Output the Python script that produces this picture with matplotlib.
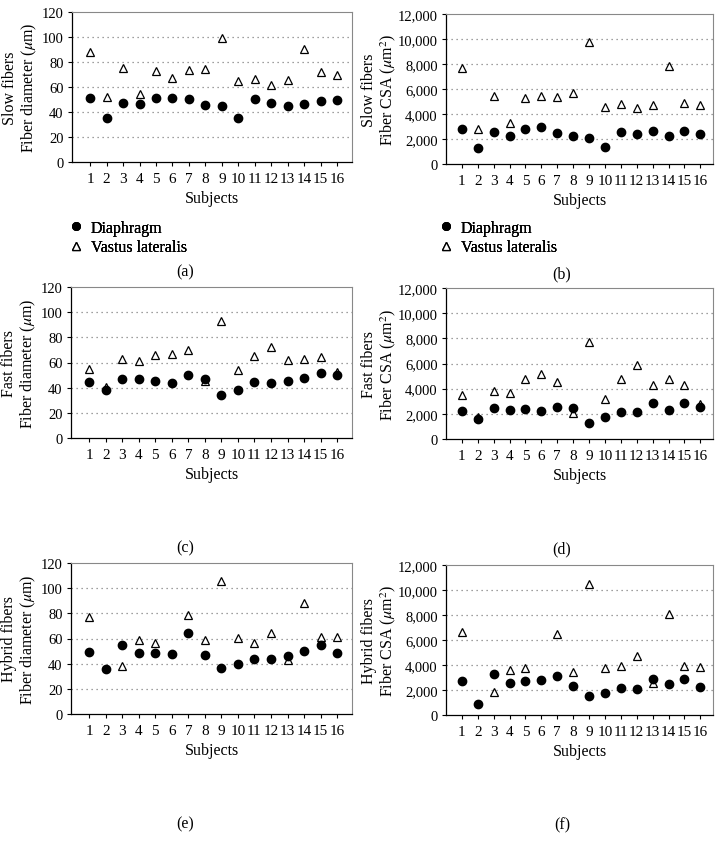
import numpy as np
import matplotlib
matplotlib.use("Agg")
import matplotlib.pyplot as plt
from matplotlib.ticker import FuncFormatter

plt.rcParams['font.family'] = ['Liberation Serif', 'DejaVu Serif']
plt.rcParams['mathtext.fontset'] = 'stix'

subjects = np.arange(1, 17)

# fiber diameter (um)
slow_diam_dia = [51.2, 35.2, 46.9, 46.7, 51.2, 51.2, 50.7, 45.3, 44.8, 35.5, 50.1, 46.9, 44.8, 46.4, 48.5, 49.6]
slow_diam_vl = [88.0, 52.0, 75.0, 54.7, 72.5, 67.2, 73.9, 74.7, 99.5, 64.5, 66.7, 61.9, 65.9, 90.4, 71.7, 69.3]
fast_diam_dia = [44.5, 38.4, 47.2, 46.6, 45.6, 43.7, 50.1, 47.2, 34.2, 37.9, 44.8, 43.7, 45.6, 47.4, 51.7, 49.8]
fast_diam_vl = [54.6, 40.5, 62.8, 61.2, 66.0, 66.5, 70.2, 45.0, 92.7, 54.3, 65.4, 72.6, 62.3, 62.5, 64.6, 52.2]
hyb_diam_dia = [49.2, 35.8, 54.6, 48.8, 48.6, 47.8, 64.5, 46.5, 36.9, 39.6, 43.8, 43.8, 46.2, 50.4, 55.0, 48.6]
hyb_diam_vl = [77.0, np.nan, 38.5, 59.2, 56.3, np.nan, 78.8, 58.7, 105.4, 60.5, 56.3, 64.2, 43.3, 88.1, 60.8, 61.3]

# fiber CSA (um^2)
slow_csa_dia = [2800, 1253, 2587, 2213, 2800, 2987, 2480, 2267, 2053, 1387, 2587, 2373, 2613, 2240, 2640, 2373]
slow_csa_vl = [7653, 2827, 5467, 3307, 5280, 5467, 5387, 5653, 9733, 4533, 4800, 4507, 4693, 7867, 4907, 4720]
fast_csa_dia = [2252, 1589, 2464, 2278, 2358, 2225, 2517, 2464, 1245, 1748, 2172, 2119, 2834, 2278, 2887, 2543]
fast_csa_vl = [3497, 1775, 3841, 3656, 4768, 5192, 4503, 2066, 7682, 3152, 4742, 5881, 4265, 4768, 4318, 2808]
hyb_csa_dia = [2726, 909, 3314, 2539, 2726, 2806, 3100, 2352, 1523, 1790, 2200, 2050, 2900, 2470, 2850, 2210]
hyb_csa_vl = [6602, np.nan, 1844, 3608, 3795, np.nan, 6468, 3475, 10478, 3750, 3935, 4700, 2570, 8050, 3935, 3880]

W, H = 725, 845
fig = plt.figure(figsize=(W / 100, H / 100), dpi=100)

panels = [
    # (left, right, top, bottom) in px, data, ylabel, ymax, letter
    ((72, 352, 13, 163), slow_diam_dia, slow_diam_vl, 'Slow fibers\nFiber diameter ($\\mu$m)', 120, 20, '(a)'),
    ((446, 713, 15, 165), slow_csa_dia, slow_csa_vl, 'Slow fibers\nFiber CSA ($\\mu$m$^2$)', 12000, 2000, '(b)'),
    ((71, 352, 288, 439), fast_diam_dia, fast_diam_vl, 'Fast fibers\nFiber diameter ($\\mu$m)', 120, 20, '(c)'),
    ((446, 713, 289, 440), fast_csa_dia, fast_csa_vl, 'Fast fibers\nFiber CSA ($\\mu$m$^2$)', 12000, 2000, '(d)'),
    ((71, 352, 564, 715), hyb_diam_dia, hyb_diam_vl, 'Hybrid fibers\nFiber diameter ($\\mu$m)', 120, 20, '(e)'),
    ((446, 713, 566, 716), hyb_csa_dia, hyb_csa_vl, 'Hybrid fibers\nFiber CSA ($\\mu$m$^2$)', 12000, 2000, '(f)'),
]

for (l, r, t, b), dia, vl, ylab, ymax, ystep, letter in panels:
    ax = fig.add_axes([l / W, 1 - b / H, (r - l) / W, (b - t) / H])
    right_col = l > 300
    ax.plot(subjects, dia, 'o', color='black', ms=6, label='Diaphragm', zorder=3)
    ax.plot(subjects, vl, '^', mfc='white', mec='black', mew=0.9, ms=6,
            label='Vastus lateralis', zorder=2)
    ax.set_ylim(0, ymax)
    ax.set_xlim((0, 16.8) if right_col else (-0.1, 16.9))
    ax.set_yticks(np.arange(0, ymax + 1, ystep))
    ax.set_xticks(subjects)
    if ymax > 1000:
        ax.yaxis.set_major_formatter(FuncFormatter(lambda v, p: f'{int(v):,}'))
    for yv in np.arange(ystep, ymax, ystep):
        ax.axhline(yv, color='#808080', lw=0.9, ls=(0, (1, 3)), zorder=1)
    ax.tick_params(axis='x', labelsize=11, length=3, width=0.8, direction='out', color='black', pad=4)
    ax.tick_params(axis='y', labelsize=10.5, length=3, width=0.8, direction='out', color='black', pad=3)
    for side in ['top', 'right']:
        ax.spines[side].set_color('#888888')
        ax.spines[side].set_linewidth(0.8)
    for side in ['left', 'bottom']:
        ax.spines[side].set_color('black')
        ax.spines[side].set_linewidth(0.9)
    ax.set_xlabel('Subjects', fontsize=11.5, labelpad=4)
    ax.set_ylabel(ylab, fontsize=11.5, linespacing=1.15)
    ax.yaxis.set_label_coords(-0.118 if not right_col else -0.178, 0.5)

    leg_x = (70 - l) / (r - l) if not right_col else (440 - l) / (r - l)
    ax.legend(loc='upper left', bbox_to_anchor=(leg_x, (b - 221) / (b - t)),
              frameon=False, fontsize=11.5, handlelength=0.8, handletextpad=0.5,
              labelspacing=0.2, borderaxespad=0, borderpad=0, markerscale=0.9)
    cx = 185 if not right_col else 562
    fig.text(cx / W, 1 - (b + 109) / H, letter, fontsize=11.5, ha='center', va='center')

fig.savefig('out.png', dpi=100)
